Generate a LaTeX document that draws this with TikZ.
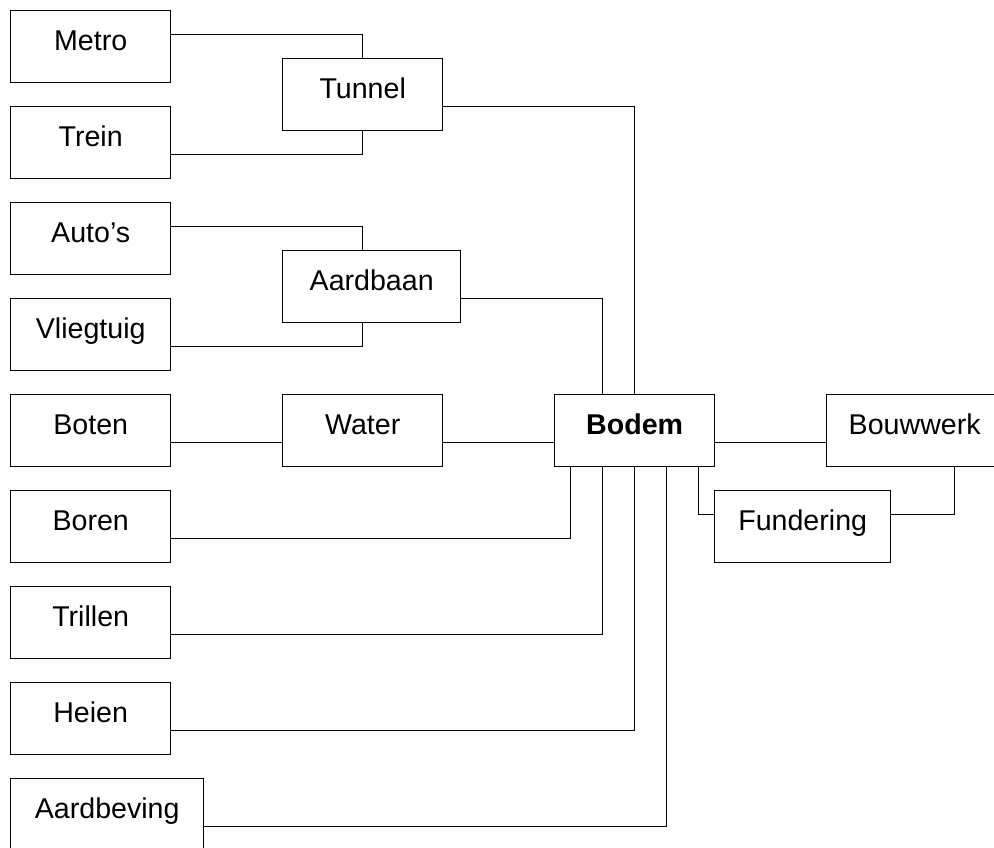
\documentclass[tikz,border=0pt]{standalone}
\usepackage{fontspec}
\setmainfont{Liberation Sans}
\begin{document}
\begin{tikzpicture}[x=1pt,y=-1pt,
  box/.style={draw=black,line width=1.4pt,anchor=north west,minimum height=72pt,
    inner sep=0pt,text height=20pt,text depth=12pt,
    font=\fontsize{28.6}{34}\selectfont},
  conn/.style={draw=black,line width=1.1pt}]
\useasboundingbox (0,0) rectangle (994,848);
\clip (0,0) rectangle (994,848);
\node[box,minimum width=160pt] (Metro) at (10,10) {Metro};
\node[box,minimum width=160pt] (Trein) at (10,106) {Trein};
\node[box,minimum width=160pt] (Autos) at (10,202) {Auto’s};
\node[box,minimum width=160pt] (Vliegtuig) at (10,298) {Vliegtuig};
\node[box,minimum width=160pt] (Boten) at (10,394) {Boten};
\node[box,minimum width=160pt] (Boren) at (10,490) {Boren};
\node[box,minimum width=160pt] (Trillen) at (10,586) {Trillen};
\node[box,minimum width=160pt] (Heien) at (10,682) {Heien};
\node[box,minimum width=193pt] (Aardbeving) at (10,778) {Aardbeving};
\node[box,minimum width=160pt] (Tunnel) at (282,58) {Tunnel};
\node[box,minimum width=178pt] (Aardbaan) at (282,250) {Aardbaan};
\node[box,minimum width=160pt] (Water) at (282,394) {Water};
\node[box,minimum width=160pt] (Bodem) at (554,394) {\bfseries Bodem};
\node[box,minimum width=176pt] (Bouwwerk) at (826,394) {Bouwwerk};
\node[box,minimum width=176pt] (Fundering) at (714,490) {Fundering};
\path[conn] ([yshift=12pt]Metro.east) -| (Tunnel.north);
\path[conn] ([yshift=-12pt]Trein.east) -| (Tunnel.south);
\path[conn] ([yshift=-12pt]Tunnel.east) -| (Bodem.north);
\path[conn] ([yshift=12pt]Autos.east) -| ([xshift=-9pt]Aardbaan.north);
\path[conn] ([yshift=-12pt]Vliegtuig.east) -| ([xshift=-9pt]Aardbaan.south);
\path[conn] ([yshift=-12pt]Aardbaan.east) -| ([xshift=-32pt]Bodem.north);
\path[conn] ([yshift=-12pt]Boten.east) -- ([yshift=-12pt]Water.west);
\path[conn] ([yshift=-12pt]Water.east) -- ([yshift=-12pt]Bodem.west);
\path[conn] ([yshift=-12pt]Bodem.east) -- ([yshift=-12pt]Bouwwerk.west);
\path[conn] ([yshift=-12pt]Boren.east) -| ([xshift=-64pt]Bodem.south);
\path[conn] ([yshift=-12pt]Trillen.east) -| ([xshift=-32pt]Bodem.south);
\path[conn] ([yshift=-12pt]Heien.east) -| (Bodem.south);
\path[conn] ([yshift=-12pt]Aardbeving.east) -| ([xshift=32pt]Bodem.south);
\path[conn] ([xshift=64pt]Bodem.south) |- ([yshift=12pt]Fundering.west);
\path[conn] ([yshift=12pt]Fundering.east) -| ([xshift=40pt]Bouwwerk.south);
\end{tikzpicture}
\end{document}
